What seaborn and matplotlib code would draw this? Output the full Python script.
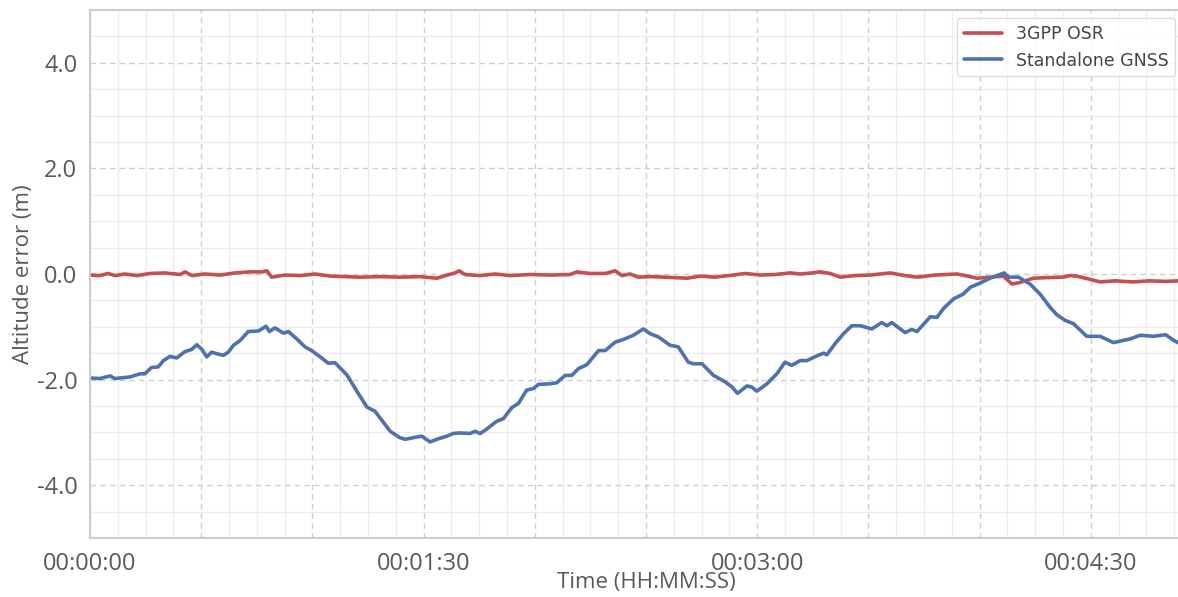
import numpy as np
import pandas as pd
import matplotlib
matplotlib.use("Agg")
import matplotlib.pyplot as plt
import matplotlib.ticker as mticker
import seaborn as sns

# %%
# values (time in seconds, altitude error in metres)
t_osr = [0.0, 2.7, 4.9, 6.7, 9.4, 12.7, 16.2, 20.2, 24.3, 25.6, 27.5, 31.0, 35.1, 39.1,
         43.2, 46.4, 47.7, 49.0, 52.6, 56.7, 60.7, 64.8, 68.8, 72.9, 78.3, 83.6, 89.0,
         93.6, 96.3, 98.5, 99.6, 101.2, 105.2, 109.3, 113.3, 118.7, 124.1, 129.5, 131.4,
         134.9, 139.0, 141.7, 143.5, 145.7, 147.9, 151.1, 155.2, 161.1, 164.6, 168.6,
         173.5, 176.7, 180.8, 184.8, 188.9, 191.6, 194.8, 197.0, 199.7, 202.4, 206.4,
         210.5, 215.9, 219.9, 223.1, 228.0, 233.9, 236.1, 239.3, 242.8, 246.4, 248.7,
         250.9, 254.5, 257.7, 262.5, 264.4, 266.2, 268.5, 272.5, 276.6, 281.4, 286.0,
         290.2, 293.6]
osr = [-0.02, -0.03, 0.01, -0.03, 0.0, -0.03, 0.01, 0.02, -0.01, 0.04, -0.03, 0.0, -0.02, 0.02,
       0.04, 0.04, 0.06, -0.06, -0.02, -0.03, 0.0, -0.04, -0.05, -0.06, -0.05, -0.06, -0.05,
       -0.08, -0.02, 0.02, 0.06, -0.01, -0.03, 0.0, -0.03, -0.01, -0.02, -0.01, 0.04,
       0.01, 0.01, 0.06, -0.03, 0.0, -0.06, -0.05, -0.06, -0.08, -0.04, -0.06,
       -0.02, 0.01, -0.02, -0.01, 0.02, 0.0, 0.02, 0.04, 0.01, -0.06, -0.03,
       -0.02, 0.02, -0.03, -0.06, -0.02, 0.0, -0.03, -0.08, -0.06, -0.04, -0.19,
       -0.16, -0.08, -0.07, -0.06, -0.03, -0.04, -0.08, -0.15, -0.13, -0.15, -0.13,
       -0.14, -0.13]

t_gnss = [0.0, 2.7, 5.4, 6.7, 10.8, 13.5, 14.8, 16.6, 18.4, 19.8, 21.6, 23.4, 25.6, 27.4,
          28.8, 30.1, 31.5, 32.8, 34.2, 36.0, 37.3, 38.7, 40.5, 42.7, 45.4, 47.5, 48.4,
          49.9, 52.2, 53.5, 55.8, 58.0, 59.8, 62.1, 64.3, 66.1, 69.3, 72.0, 74.7, 76.9,
          81.0, 83.6, 85.0, 87.2, 89.5, 91.7, 93.6, 96.3, 98.0, 99.8, 102.5, 103.9, 105.2,
          106.6, 109.7, 111.5, 113.8, 115.6, 117.8, 119.6, 121.0, 124.1, 125.9, 128.2,
          130.0, 131.8, 134.0, 137.2, 139.0, 141.7, 143.9, 146.6, 149.3, 151.1, 153.3,
          156.5, 158.7, 161.4, 162.8, 165.1, 168.2, 171.3, 173.2, 174.7, 177.2, 178.5,
          179.9, 182.6, 185.3, 187.5, 189.3, 191.6, 193.4, 196.1, 197.9, 198.8, 201.0,
          203.3, 205.5, 207.8, 210.9, 213.6, 215.0, 216.3, 219.9, 221.7, 223.1, 226.7,
          228.5, 230.3, 233.0, 235.6, 237.5, 240.2, 242.8, 244.7, 246.6, 247.8, 250.5,
          253.6, 256.3, 259.0, 260.8, 263.1, 265.3, 268.9, 272.5, 276.1, 280.6, 283.3,
          286.9, 290.2, 292.4, 293.6]
gnss = [-1.97, -1.98, -1.93, -1.98, -1.95, -1.89, -1.89, -1.77, -1.76, -1.64, -1.56, -1.59, -1.47, -1.43,
        -1.34, -1.42, -1.57, -1.48, -1.51, -1.54, -1.48, -1.35, -1.26, -1.09, -1.08, -0.99, -1.09,
        -1.02, -1.12, -1.09, -1.23, -1.38, -1.45, -1.57, -1.69, -1.68, -1.91, -2.22, -2.52, -2.60,
        -2.98, -3.10, -3.13, -3.10, -3.07, -3.18, -3.13, -3.07, -3.02, -3.01, -3.02, -2.98, -3.02,
        -2.96, -2.79, -2.74, -2.53, -2.45, -2.20, -2.17, -2.09, -2.08, -2.06, -1.92,
        -1.92, -1.79, -1.72, -1.45, -1.45, -1.29, -1.24, -1.16, -1.04, -1.13, -1.19,
        -1.35, -1.38, -1.67, -1.70, -1.70, -1.92, -2.04, -2.14, -2.26, -2.12, -2.14,
        -2.22, -2.08, -1.89, -1.67, -1.73, -1.64, -1.64, -1.55, -1.50, -1.53, -1.32,
        -1.13, -0.98, -0.98, -1.04, -0.92, -0.98, -0.92, -1.11, -1.05, -1.09, -0.81,
        -0.82, -0.65, -0.47, -0.38, -0.25, -0.17, -0.08, -0.03, 0.02, -0.06, -0.06,
        -0.19, -0.38, -0.63, -0.77, -0.88, -0.94, -1.18, -1.18, -1.30, -1.23, -1.16,
        -1.18, -1.15, -1.26, -1.30]

labels = ["3GPP OSR", "Standalone GNSS"]
colors = ["#C44E52", "#4C72B0"]

df_osr = pd.DataFrame({"t": t_osr, "err": osr})
df_gnss = pd.DataFrame({"t": t_gnss, "err": gnss})

# %%
sns.set_style("whitegrid")
plt.rcParams["font.family"] = ["Open Sans", "DejaVu Sans"]

fig = plt.figure(figsize=(11.78, 5.97), dpi=100)
ax = fig.add_axes([0.0764, 0.0988, 0.9440, 0.8845])

sns.lineplot(data=df_osr, x="t", y="err", color=colors[0], lw=2.6, label=labels[0], ax=ax)
sns.lineplot(data=df_gnss, x="t", y="err", color=colors[1], lw=2.6, label=labels[1], ax=ax)

ax.set_xlim(0, 300)
ax.set_ylim(-5, 5)

def hms(x, pos):
    s = int(round(x))
    if s % 90 != 0:
        return ""
    return f"{s // 3600:02d}:{(s % 3600) // 60:02d}:{s % 60:02d}"

ax.xaxis.set_major_locator(mticker.MultipleLocator(30))
ax.xaxis.set_minor_locator(mticker.MultipleLocator(7.5))
ax.xaxis.set_major_formatter(mticker.FuncFormatter(hms))
ax.yaxis.set_major_locator(mticker.MultipleLocator(2))
ax.yaxis.set_minor_locator(mticker.MultipleLocator(0.5))
ax.yaxis.set_major_formatter(mticker.FormatStrFormatter("%.1f"))

ax.grid(which="major", color="#cfcfcf", linestyle=(0, (4, 3)), linewidth=1.0)
ax.grid(which="minor", color="#ececec", linestyle="-", linewidth=0.9)
ax.tick_params(which="both", length=0)
ax.tick_params(axis="x", labelsize=17, labelcolor="#595959", pad=10)
ax.tick_params(axis="y", labelsize=17, labelcolor="#595959", pad=9)

for s in ax.spines.values():
    s.set_color("#cccccc")
    s.set_linewidth(1.5)

ax.set_xlabel("Time (HH:MM:SS)", fontsize=16, color="#595959", labelpad=-3)
ax.set_ylabel("Altitude error (m)", fontsize=16, color="#595959", labelpad=2)

leg = ax.legend(loc="upper right", bbox_to_anchor=(0.976, 0.985), borderaxespad=0,
                frameon=True, handlelength=2.2,
                prop={"family": "DejaVu Sans", "size": 12.5})
leg.get_frame().set_edgecolor("#d5d5d5")
leg.get_frame().set_facecolor("white")
for txt in leg.get_texts():
    txt.set_color("#444444")

fig.savefig("out.png", dpi=100)
